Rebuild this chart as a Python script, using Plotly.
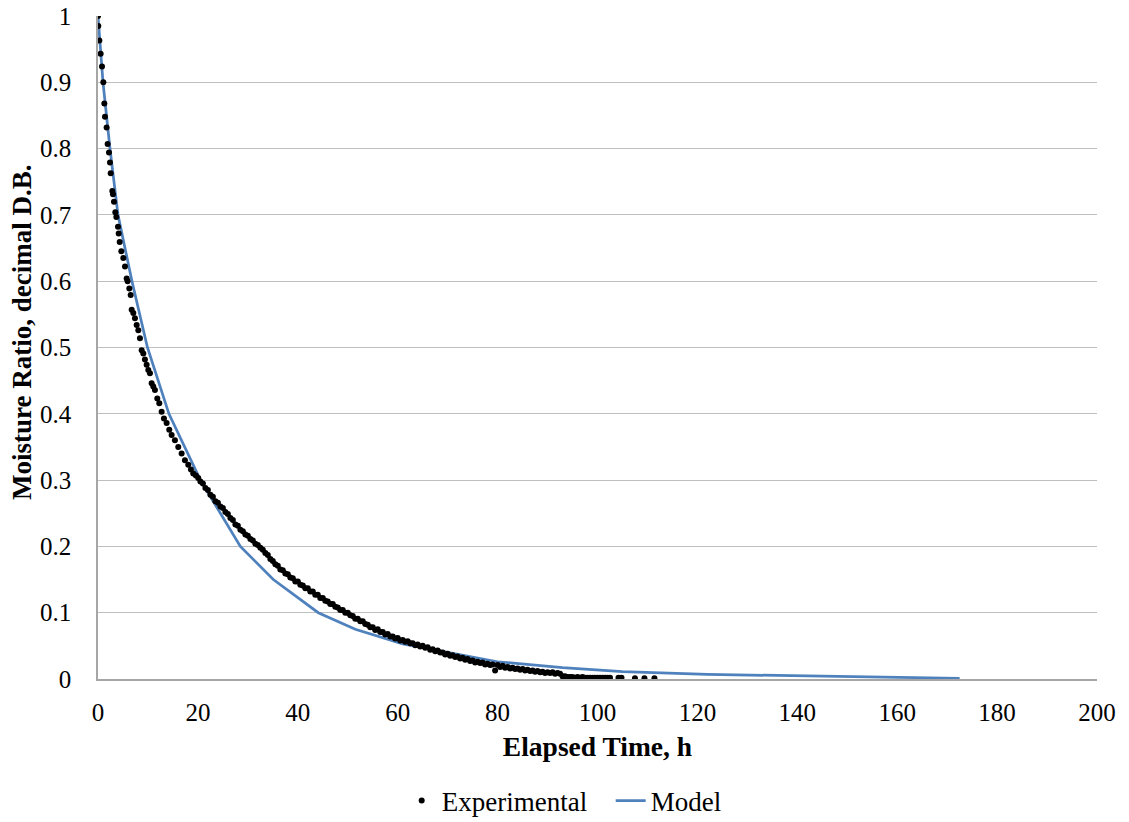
import plotly.graph_objects as go

# Experimental data (elapsed time h, moisture ratio)
exp_time = [
    0, 0.06, 0.27, 0.53, 0.8, 1.07, 1.27, 1.4, 1.73, 1.93, 2.2, 2.4, 2.54, 2.87, 3.0, 3.2, 3.47, 3.67,
    4.0, 4.14, 4.34, 4.67, 5.07, 5.4, 5.74, 5.93, 6.27, 6.54, 6.74, 7.07, 7.4, 7.74, 8.07, 8.4, 8.74,
    9.07, 9.4, 9.74, 10.07, 10.4, 10.74, 11.07, 11.4, 11.87, 12.27, 12.74, 13.2, 13.74, 14.27, 14.74,
    15.4, 16.07, 16.74, 17.4, 18.07, 18.6, 19.07, 19.6, 20.07,
    20.5, 21.0, 21.5, 22.0, 22.5, 23.0, 23.5, 24.0, 24.5, 25.0, 25.5, 26.0, 26.5, 27.0, 27.5, 28.0,
    28.5, 29.0, 29.5, 30.0, 30.5, 31.0, 31.5, 32.0, 32.5, 33.0, 33.5, 34.0, 34.5, 35.0, 35.5, 36.0,
    36.5, 37.0, 37.5, 38.0, 38.5, 39.0, 39.5, 40.0, 40.5, 41.0, 41.5, 42.0, 42.5, 43.0, 43.5, 44.0,
    44.5, 45.0, 45.5, 46.0, 46.5, 47.0, 47.5, 48.0, 48.5, 49.0, 49.5, 50.0, 50.5, 51.0, 51.5, 52.0,
    52.5, 53.0, 53.5, 54.0, 54.5, 55.0, 55.5, 56.0, 56.5, 57.0, 57.5, 58.0, 58.5, 59.0, 59.5, 60.0,
    60.5, 61.0, 61.5, 62.0, 62.5, 63.0, 63.5, 64.0, 64.5, 65.0, 65.5, 66.0, 66.5, 67.0, 67.5, 68.0,
    68.5, 69.0, 69.5, 70.0, 70.5, 71.0, 71.5, 72.0, 72.5, 73.0, 73.5, 74.0, 74.5, 75.0, 75.5, 76.0,
    76.5, 77.0, 77.5, 78.0, 78.5, 79.0, 79.5, 80.0, 80.5, 81.0, 81.5, 82.0, 82.5, 83.0, 83.5, 84.0,
    84.5, 85.0, 85.5, 86.0, 86.5, 87.0, 87.5, 88.0, 88.5, 89.0, 89.5, 90.0, 90.5, 91.0, 91.5, 92.0,
    92.5, 93.0, 93.5, 94.0, 94.5, 95.0, 95.5, 96.0, 96.5, 97.0, 97.5, 98.0, 98.5, 99.0, 99.5, 100.0,
    100.5, 101.0, 101.5, 102.0, 102.5, 104.2, 104.8, 107.5, 109.4, 111.4,
]
exp_mr = [
    1.0, 0.985, 0.963, 0.943, 0.924, 0.9, 0.868, 0.848, 0.832, 0.807, 0.794, 0.779, 0.763, 0.736, 0.731, 0.72, 0.704, 0.697,
    0.682, 0.672, 0.659, 0.645, 0.635, 0.622, 0.604, 0.6, 0.589, 0.579, 0.557, 0.552, 0.544, 0.534, 0.526, 0.514, 0.496,
    0.491, 0.482, 0.474, 0.466, 0.461, 0.446, 0.441, 0.436, 0.423, 0.416, 0.403, 0.393, 0.386, 0.376, 0.368,
    0.36, 0.35, 0.34, 0.33, 0.323, 0.316, 0.31, 0.307, 0.303,
    0.298, 0.295, 0.288, 0.285, 0.278, 0.275, 0.268, 0.266, 0.260, 0.258, 0.252, 0.249, 0.243, 0.240, 0.233, 0.231,
    0.225, 0.223, 0.218, 0.216, 0.211, 0.209, 0.204, 0.202, 0.198, 0.195, 0.190, 0.187, 0.181, 0.178, 0.173, 0.171,
    0.165, 0.164, 0.159, 0.158, 0.153, 0.152, 0.147, 0.147, 0.142, 0.141, 0.137, 0.137, 0.132, 0.132, 0.127, 0.127,
    0.122, 0.122, 0.118, 0.117, 0.113, 0.113, 0.109, 0.108, 0.104, 0.104, 0.100, 0.100, 0.096, 0.095, 0.091, 0.091,
    0.087, 0.087, 0.083, 0.082, 0.078, 0.078, 0.074, 0.075, 0.071, 0.071, 0.067, 0.068, 0.064, 0.064, 0.061, 0.062,
    0.058, 0.059, 0.056, 0.057, 0.054, 0.054, 0.051, 0.052, 0.049, 0.050, 0.047, 0.048, 0.044, 0.045, 0.042, 0.043,
    0.040, 0.040, 0.037, 0.038, 0.035, 0.036, 0.033, 0.034, 0.031, 0.032, 0.029, 0.030, 0.027, 0.028, 0.025, 0.026,
    0.024, 0.025, 0.022, 0.023, 0.021, 0.022, 0.013, 0.021, 0.018, 0.020, 0.017, 0.018, 0.016, 0.017, 0.015, 0.016,
    0.014, 0.015, 0.013, 0.014, 0.012, 0.013, 0.011, 0.012, 0.010, 0.011, 0.009, 0.010, 0.009, 0.010, 0.008, 0.009,
    0.008, 0.004, 0.004, 0.003, 0.003, 0.003, 0.002, 0.003, 0.002, 0.003, 0.002, 0.002, 0.002, 0.002, 0.002, 0.002,
    0.002, 0.002, 0.002, 0.002, 0.002, 0.002, 0.002, 0.001, 0.001, 0.001,
]

# Model curve
model_time = [0, 1, 2.4, 4, 6.8, 9.9, 14.2, 20.5, 28.5, 35.1, 44.1, 51.5, 61, 70, 80, 93, 105, 122, 147, 172.5]
model_mr = [1.0, 0.9, 0.8, 0.7, 0.6, 0.5, 0.4, 0.3, 0.2, 0.15, 0.1, 0.075, 0.053, 0.04, 0.026, 0.017, 0.011, 0.007, 0.0045, 0.001]

x_ticks = [0, 20, 40, 60, 80, 100, 120, 140, 160, 180, 200]
y_ticks = [0, 0.1, 0.2, 0.3, 0.4, 0.5, 0.6, 0.7, 0.8, 0.9, 1]

FONT = "Liberation Serif"

fig = go.Figure()
fig.add_trace(go.Scatter(
    x=model_time, y=model_mr, mode="lines", name="Model",
    line=dict(color="#4F81BD", width=2.75), legendrank=2,
))
fig.add_trace(go.Scatter(
    x=exp_time, y=exp_mr, mode="markers", name="Experimental",
    marker=dict(color="black", size=6, symbol="circle"), legendrank=1,
))

fig.update_layout(
    width=1129, height=822,
    margin=dict(l=98, r=32, t=16, b=143, autoexpand=False),
    paper_bgcolor="white", plot_bgcolor="white",
    font=dict(family=FONT, size=25, color="black"),
    showlegend=True,
    legend=dict(orientation="h", x=0.304, xanchor="left", y=-0.184, yanchor="middle",
                font=dict(family=FONT, size=27), itemwidth=30,
                entrywidth=164, entrywidthmode="pixels", bgcolor="rgba(0,0,0,0)"),
    xaxis=dict(
        range=[0, 200], tickvals=x_ticks, showgrid=False, zeroline=False, automargin=False,
        showline=True, linecolor="#A6A6A6", linewidth=1.5, ticks="",
        tickfont=dict(family=FONT, size=25), ticklabeloverflow="allow",
        ticklabelstandoff=10,
        title=dict(text="<b>Elapsed Time, h</b>", font=dict(family=FONT, size=27.5), standoff=12),
    ),
    yaxis=dict(
        range=[0, 1], tickvals=y_ticks, showgrid=True, gridcolor="#BFBFBF", gridwidth=1.2,
        zeroline=False, showline=True, linecolor="#A6A6A6", linewidth=1.5, ticks="", automargin=False,
        tickfont=dict(family=FONT, size=25), ticklabeloverflow="allow",
        ticklabelstandoff=20,
    ),
    annotations=[dict(
        text="<b>Moisture Ratio, decimal D.B.</b>", textangle=-90,
        xref="paper", yref="paper", x=-0.076, y=0.522, xanchor="center", yanchor="middle",
        showarrow=False, font=dict(family=FONT, size=27, color="black"),
    )],
)

# remove the page's default 8px body margin so the figure sits at the window origin
fig.write_html("out.html", config={"displayModeBar": False},
               post_script="document.body.style.margin='0';")
